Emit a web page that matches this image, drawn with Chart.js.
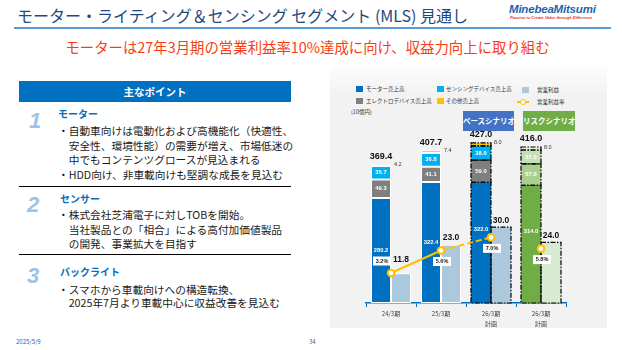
<!DOCTYPE html>
<html lang="ja">
<head>
<meta charset="utf-8">
<script src="https://cdn.jsdelivr.net/npm/chart.js@4.4.1/dist/chart.umd.min.js"></script>
<style>
body{margin:0;width:622px;height:350px;position:relative;background:#fff;overflow:hidden;
  font-family:"Noto Sans CJK JP","Noto Sans",sans-serif;color:#1a1a1a}
.a{position:absolute;white-space:nowrap}
.ln{font-size:10.7px;line-height:14px}
.hd{font-size:10px;line-height:14px;color:#0070c0;font-weight:bold}
.num{font-family:"Liberation Sans",Arial,sans-serif;font-weight:bold;font-style:italic;font-size:22px;line-height:22px;color:#9dc3e6}
.sep{position:absolute;left:19px;width:272px;height:1px;background:#000}
.lg{font-size:5.5px;line-height:8px;color:#333}
.sq{position:absolute;width:7px;height:6px}
</style>
</head>
<body>
<!-- title -->
<div class="a" style="left:17px;top:4px;font-size:16px;line-height:22px;color:#1f497d">モーター・ライティング＆センシング セグメント (MLS) 見通し</div>
<div class="a" style="left:14px;top:27px;width:597px;height:1.5px;background:#5b9bd5"></div>
<div class="a" style="left:509px;top:3px;font-family:'Liberation Sans',Arial,sans-serif;font-weight:bold;font-style:italic;font-size:11.5px;line-height:13px;color:#1f5fae;letter-spacing:-0.2px">MinebeaMitsumi</div>
<div class="a" style="left:510px;top:15px;font-family:'Liberation Sans',Arial,sans-serif;font-weight:bold;font-style:italic;font-size:4px;line-height:5px;color:#e03020">Passion to Create Value through Difference</div>
<div class="a" style="left:0;width:615px;text-align:center;top:37px;font-size:14.4px;line-height:20px;color:#fa3c14">モーターは27年3月期の営業利益率10%達成に向け、収益力向上に取り組む</div>

<!-- left panel -->
<div class="a" style="left:19px;top:81px;width:272px;height:21px;background:#0070c0;color:#fff;font-weight:bold;font-size:10.5px;line-height:21px;text-align:center">主なポイント</div>

<div class="a num" style="left:29px;top:110px">1</div>
<div class="a hd" style="left:58px;top:107px">モーター</div>
<div class="a ln" style="left:58px;top:124px">・自動車向けは電動化および高機能化（快適性、</div>
<div class="a ln" style="left:58px;top:138.5px">　安全性、環境性能）の需要が増え、市場低迷の</div>
<div class="a ln" style="left:58px;top:152.5px">　中でもコンテンツグロースが見込まれる</div>
<div class="a ln" style="left:58px;top:167.5px">・HDD向け、非車載向けも堅調な成長を見込む</div>
<div class="sep" style="top:186px"></div>

<div class="a num" style="left:27px;top:194px">2</div>
<div class="a hd" style="left:60px;top:192px">センサー</div>
<div class="a ln" style="left:58px;top:208px">・株式会社芝浦電子に対しTOBを開始。</div>
<div class="a ln" style="left:58px;top:223px">　当社製品との「相合」による高付加価値製品</div>
<div class="a ln" style="left:58px;top:237px">　の開発、事業拡大を目指す</div>
<div class="sep" style="top:254px"></div>

<div class="a num" style="left:27px;top:265px">3</div>
<div class="a hd" style="left:60px;top:265px">バックライト</div>
<div class="a ln" style="left:58px;top:283px">・スマホから車載向けへの構造転換、</div>
<div class="a ln" style="left:58px;top:296px">　2025年7月より車載中心に収益改善を見込む</div>

<div class="a" style="left:16px;top:338px;font-size:6px;line-height:8px;color:#1f5fae">2025/5/9</div>
<div class="a" style="left:309px;top:338px;font-size:6px;line-height:8px;color:#1f5fae">34</div>

<!-- right panel -->
<div class="a" style="left:330px;top:62px;width:277px;height:266px;background:linear-gradient(#ffffff 0%,#f2f2f2 12%,#f2f2f2 100%)"></div>

<div class="sq" style="left:356px;top:86px;background:#0070c0"></div>
<div class="a lg" style="left:366px;top:85px">モーター売上高</div>
<div class="sq" style="left:437px;top:86px;background:#00b0f0"></div>
<div class="a lg" style="left:446px;top:85px">センシングデバイス売上高</div>
<div class="sq" style="left:522px;top:87px;background:#acc8dc"></div>
<div class="a lg" style="left:537px;top:86px">営業利益</div>
<div class="sq" style="left:356px;top:98px;background:#7f7f7f"></div>
<div class="a lg" style="left:366px;top:97px">エレクトロデバイス売上高</div>
<div class="sq" style="left:437px;top:98px;background:#ffc000"></div>
<div class="a lg" style="left:446px;top:97px">その他売上高</div>
<div class="a" style="left:517px;top:101px;width:12px;height:2px;background:#ffc000"></div>
<div class="a" style="left:520px;top:98.5px;width:4px;height:4px;border:1.6px solid #ffc000;border-radius:50%;background:#fff"></div>
<div class="a lg" style="left:537px;top:98px">営業利益率</div>
<div class="a lg" style="left:351px;top:108px">(10億円)</div>

<div class="a" style="left:463px;top:111px;width:51px;height:20px;background:#4472c4;color:#fff;font-weight:bold;font-size:7.5px;line-height:20px;text-align:center">ベースシナリオ</div>
<div class="a" style="left:523px;top:111px;width:52px;height:20px;background:#70ad47;color:#fff;font-weight:bold;font-size:7.5px;line-height:20px;text-align:center">リスクシナリオ</div>

<canvas id="mls" width="277" height="270" style="position:absolute;left:330px;top:60px"></canvas>

<script>
// 10億円
var periods = [['24/3期'], ['25/3期'], ['26/3期', '計画'], ['26/3期', '計画']];
var motorSales = [280.2, 322.4, 322.0, 314.0];
var electroSales = [49.3, 41.1, 59.0, 57.0];
var sensingSales = [35.7, 36.8, 38.0, 37.0];
var otherSales = [4.2, 7.4, 8.0, 8.0];
var totalSales = [369.4, 407.7, 427.0, 416.0];
var opProfit = [11.8, 23.0, 30.0, 24.0];
var opMargin = [3.2, 5.6, 7.0, 5.8];

var baseColors = {motor: '#0070c0', electro: '#7f7f7f', sensing: '#00b0f0', other: '#ffc000', profit: '#acc8dc'};
var riskColors = {motor: '#70ad47', electro: '#a9d08e', sensing: '#c5e0b4', other: '#e2efda', profit: '#d9ead3'};
var numFont = "'Liberation Sans', Arial, sans-serif";

function colorsFor(key) {
    // last column is the risk scenario (green)
    return periods.map((p, i) => i === 3 ? riskColors[key] : baseColors[key]);
}

function barSet(label, data, key, stack, axis) {
    return {
        type: 'bar', label: label, data: data, stack: stack, yAxisID: axis,
        backgroundColor: colorsFor(key),
        borderColor: '#fff',
        borderWidth: ctx => ctx.dataIndex < 2 ? 1 : 0,
        borderSkipped: false,
        order: 1
    };
}

function text(c, str, x, y, font, color, align) {
    c.font = font;
    c.fillStyle = color;
    c.textAlign = align || 'center';
    c.textBaseline = 'middle';
    c.fillText(str, x, y);
}

var labelPlugin = {
    id: 'mlsLabels',
    afterDatasetDraw(chart, args) {
        // motor bars are drawn last among the bars
        if (args.index !== 0) return;
        var c = chart.ctx;
        c.save();
        // dashed outline on the plan columns
        c.strokeStyle = '#000';
        c.lineWidth = 1.2;
        c.setLineDash([5, 1.5, 1.5, 1.5]);
        for (var d = 0; d < 5; d++) {
            var meta = chart.getDatasetMeta(d);
            [2, 3].forEach(i => {
                var el = meta.data[i];
                var top = Math.min(el.y, el.base);
                c.strokeRect(el.x - el.width / 2, top, el.width, Math.abs(el.base - el.y));
            });
        }
        c.setLineDash([]);

        var segs = [motorSales, electroSales, sensingSales];
        segs.forEach((arr, d) => {
            chart.getDatasetMeta(d).data.forEach((el, i) => {
                var frac = (d === 0 && i > 1) ? 0.61 : 0.5;
                var y = el.base - (el.base - el.y) * frac;
                text(c, arr[i].toFixed(1), el.x, y, 'bold 5.8px ' + numFont, '#fff');
            });
        });
        chart.getDatasetMeta(3).data.forEach((el, i) => {
            text(c, otherSales[i].toFixed(1), el.x + el.width / 2 + 3, el.y, '5.5px ' + numFont, '#333', 'left');
            text(c, totalSales[i].toFixed(1), el.x, el.y - 8, 'bold 9px ' + numFont, '#111');
        });
        chart.getDatasetMeta(4).data.forEach((el, i) => {
            var up = i === 0 ? 14 : 7;
            text(c, opProfit[i].toFixed(1), el.x, el.y - up, 'bold 8.5px ' + numFont, '#111');
        });
        c.restore();
    },
    afterDatasetsDraw(chart) {
        var c = chart.ctx;
        c.save();
        chart.getDatasetMeta(5).data.forEach((pt, i) => {
            var cx = i === 0 ? pt.x - 9 : pt.x + 1;
            var cy = i === 0 ? pt.y - 12 : pt.y + 11;
            c.fillStyle = '#fff';
            c.fillRect(cx - 9, cy - 4.5, 18, 9);
            text(c, opMargin[i].toFixed(1) + '%', cx, cy, 'bold 5.5px ' + numFont, '#222');
        });
        c.restore();
    }
};

var ctx = document.getElementById('mls').getContext('2d');
var mlsChart = new Chart(ctx, {
    data: {
        labels: periods,
        datasets: [
            barSet('モーター売上高', motorSales, 'motor', 'sales', 'y'),
            barSet('エレクトロデバイス売上高', electroSales, 'electro', 'sales', 'y'),
            barSet('センシングデバイス売上高', sensingSales, 'sensing', 'sales', 'y'),
            barSet('その他売上高', otherSales, 'other', 'sales', 'y'),
            barSet('営業利益', opProfit, 'profit', 'profit', 'y1'),
            {
                type: 'line', label: '営業利益率', data: opMargin, yAxisID: 'y2',
                borderColor: '#ffc000', borderWidth: 2,
                pointRadius: 3.3, pointBorderWidth: 2,
                pointBackgroundColor: '#fff', pointBorderColor: '#ffc000',
                segment: {
                    borderColor: s => s.p0DataIndex === 2 ? 'rgba(0,0,0,0)' : '#ffc000',
                    borderDash: s => s.p0DataIndex === 1 ? [6, 3] : []
                },
                order: 0
            }
        ]
    },
    options: {
        responsive: false,
        animation: false,
        devicePixelRatio: 1,
        categoryPercentage: 0.8,
        barPercentage: 1.0,
        layout: {padding: {left: 36, right: 41, top: 18, bottom: 0}},
        plugins: {legend: {display: false}, tooltip: {enabled: false}},
        scales: {
            x: {
                grid: {drawOnChartArea: false, color: '#0070c0', tickLength: 4, offset: true},
                border: {color: '#0070c0', width: 1.5},
                ticks: {
                    color: '#404040', padding: 2,
                    font: {size: 6, lineHeight: 1.6, family: "'Noto Sans CJK JP', sans-serif"}
                },
                afterFit: s => { s.height = 27; }
            },
            y: {display: false, stacked: true, min: 0, max: 600},
            y1: {display: false, stacked: true, min: 0, max: 89},
            y2: {display: false, min: 0, max: 24}
        }
    },
    plugins: [labelPlugin]
});
</script>
</body>
</html>
